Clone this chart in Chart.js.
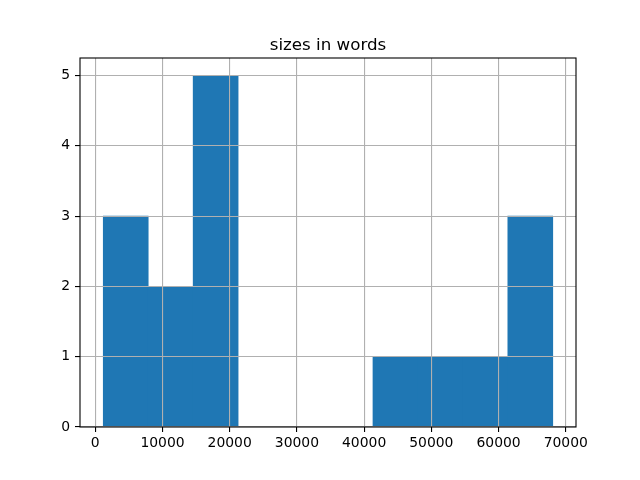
<!DOCTYPE html>
<html>
<head>
<meta charset="utf-8">
<style>
  html, body { margin: 0; padding: 0; background: #fff; }
  #wrap { width: 640px; height: 480px; }
</style>
<script src="https://cdn.jsdelivr.net/npm/chart.js@4"></script>
</head>
<body>
<div id="wrap"><canvas id="chart1" width="640" height="480"></canvas></div>
<script>
// Histogram bins
const binEdges = [1190, 7878, 14565, 21253, 27940, 34628, 41315, 48003, 54690, 61378, 68065];
const binCounts = [3, 2, 5, 0, 0, 0, 1, 1, 1, 3];
const xTickValues = [0, 10000, 20000, 30000, 40000, 50000, 60000, 70000];
const yTickValues = [0, 1, 2, 3, 4, 5];
const chartTitle = 'sizes in words';

const barPoints = binCounts.map((count, i) => ({
  x: (binEdges[i] + binEdges[i + 1]) / 2,
  y: count
}));

const tickFont = { family: 'DejaVu Sans', size: 13.9 };

// black frame round the plot area (matplotlib spines) and the title centred over it
const framePlugin = {
  id: 'frame',
  afterDraw(chart) {
    const { ctx, chartArea: a } = chart;
    ctx.save();
    ctx.strokeStyle = '#000';
    ctx.lineWidth = 1.1;
    ctx.strokeRect(a.left, a.top, a.right - a.left, a.bottom - a.top);
    ctx.fillStyle = '#000';
    ctx.font = '16.7px "DejaVu Sans"';
    ctx.textAlign = 'center';
    ctx.textBaseline = 'alphabetic';
    ctx.fillText(chartTitle, (a.left + a.right) / 2, a.top - 8.5);
    ctx.restore();
  }
};

new Chart(document.getElementById('chart1').getContext('2d'), {
  type: 'bar',
  data: {
    datasets: [{
      data: barPoints,
      backgroundColor: '#1f77b4',
      borderWidth: 0,
      barPercentage: 1,
      categoryPercentage: 1
    }]
  },
  options: {
    responsive: false,
    animation: false,
    layout: { padding: { left: 0, right: 64, top: 58, bottom: 0 } },
    plugins: {
      legend: { display: false },
      tooltip: { enabled: false },
      title: { display: false }
    },
    scales: {
      x: {
        type: 'linear',
        min: -2270,
        max: 71520,
        offset: false,
        afterBuildTicks: scale => { scale.ticks = xTickValues.map(v => ({ value: v })); },
        afterFit: scale => { scale.height = 53; },
        border: { display: false },
        grid: {
          z: 1,
          offset: false,
          color: '#b0b0b0',
          lineWidth: 1.1,
          tickColor: '#000',
          tickWidth: 1.1,
          tickLength: 5,
          drawOnChartArea: true
        },
        ticks: {
          color: '#000',
          font: tickFont,
          padding: 3,
          maxRotation: 0,
          autoSkip: false,
          callback: v => String(v)
        }
      },
      y: {
        min: 0,
        max: 5.25,
        afterBuildTicks: scale => { scale.ticks = yTickValues.map(v => ({ value: v })); },
        afterFit: scale => { scale.width = 80; },
        border: { display: false },
        grid: {
          z: 1,
          color: '#b0b0b0',
          lineWidth: 1.1,
          tickColor: '#000',
          tickWidth: 1.1,
          tickLength: 5
        },
        ticks: {
          color: '#000',
          font: tickFont,
          padding: 5,
          autoSkip: false,
          callback: v => String(v)
        }
      }
    }
  },
  plugins: [framePlugin]
});
</script>
</body>
</html>
